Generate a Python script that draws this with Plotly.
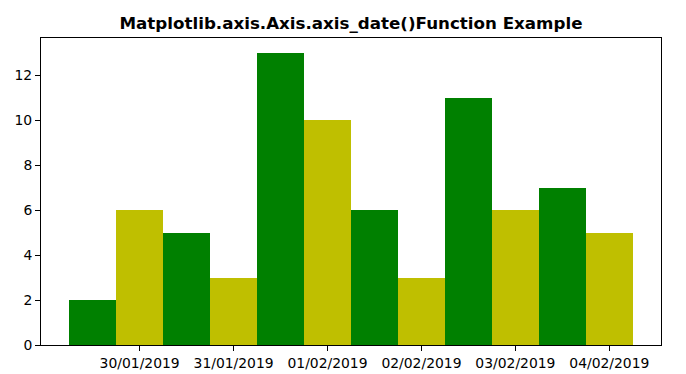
import plotly.graph_objects as go
import pandas as pd

dates = ["2019-01-30", "2019-01-31", "2019-02-01", "2019-02-02", "2019-02-03", "2019-02-04"]
green_values = [2, 5, 13, 6, 11, 7]
yellow_values = [6, 3, 10, 3, 6, 5]
tick_labels = [pd.Timestamp(d).strftime("%d/%m/%Y") for d in dates]

DAY = 86400000
fig = go.Figure()
fig.add_trace(go.Bar(x=dates, y=green_values, width=0.5 * DAY, offset=-0.75 * DAY,
                     marker=dict(color="#008000", line=dict(width=0)), showlegend=False))
fig.add_trace(go.Bar(x=dates, y=yellow_values, width=0.5 * DAY, offset=-0.25 * DAY,
                     marker=dict(color="#bfbf00", line=dict(width=0)), showlegend=False))

start = pd.Timestamp(dates[0]) - pd.Timedelta(hours=1.05 * 24)
end = pd.Timestamp(dates[-1]) + pd.Timedelta(hours=0.55 * 24)

fig.update_layout(
    width=686, height=374,
    margin=dict(l=41, r=25, t=38, b=29, autoexpand=False),
    paper_bgcolor="white", plot_bgcolor="white",
    font=dict(family="DejaVu Sans", size=13.9, color="black"),
    title=dict(text="<b>Matplotlib.axis.Axis.axis_date()Function Example</b>",
               x=(41 + 661) / 2 / 686, xanchor="center", y=1 - 23 / 374, yanchor="middle",
               font=dict(size=16.7, family="DejaVu Sans")),
    bargap=0,
)
fig.update_xaxes(type="date", range=[start, end], tickvals=dates, ticktext=tick_labels,
                 automargin=False,
                 showline=True, linecolor="black", linewidth=1, mirror=True,
                 ticks="outside", ticklen=5, tickcolor="black", showgrid=False, zeroline=False)
fig.update_yaxes(range=[0, 13.65], tickvals=[0, 2, 4, 6, 8, 10, 12], automargin=False,
                 showline=True, linecolor="black", linewidth=1, mirror=True,
                 ticks="outside", ticklen=5, tickcolor="black", showgrid=False, zeroline=False)

fig.write_html("out.html")
